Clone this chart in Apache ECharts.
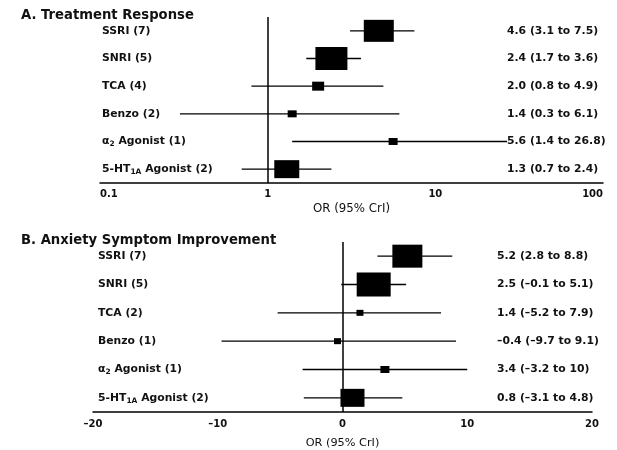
<!DOCTYPE html>
<html>
<head>
<meta charset="utf-8">
<script src="https://cdn.jsdelivr.net/npm/echarts@6/dist/echarts.min.js"></script>
<style>
html,body{margin:0;padding:0;background:#fff;}
#c{width:617px;height:450px;}
</style>
</head>
<body>
<div id="c"></div>
<script>
// Panel A: Treatment Response (odds ratio, log scale)
const categoriesA = ['SSRI (7)', 'SNRI (5)', 'TCA (4)', 'Benzo (2)', 'α{sub|2} Agonist (1)', '5-HT{sub|1A} Agonist (2)'];
const estA = [4.6, 2.4, 2.0, 1.4, 5.6, 1.3];
const lowA = [3.1, 1.7, 0.8, 0.3, 1.4, 0.7];
const highA = [7.5, 3.6, 4.9, 6.1, 26.8, 2.4];
const ticksA = [0.1, 1, 10, 100];

// Panel B: Anxiety Symptom Improvement (linear scale)
const categoriesB = ['SSRI (7)', 'SNRI (5)', 'TCA (2)', 'Benzo (1)', 'α{sub|2} Agonist (1)', '5-HT{sub|1A} Agonist (2)'];
const estB = [5.2, 2.5, 1.4, -0.4, 3.4, 0.8];
const lowB = [2.8, -0.1, -5.2, -9.7, -3.2, -3.1];
const highB = [8.8, 5.1, 7.9, 9.1, 10, 4.8];
const ticksB = [-20, -10, 0, 10, 20];

// Box (weight) marker sizes, styling only
const boxA = [[30,22],[32,23],[12,9],[9,7],[9,7],[25,18]];
const boxB = [[30,23],[34,24],[7,6],[7,6],[9,7],[24,18]];

const FONT = '"DejaVu Sans"';
const TXT = '#111';
const dash = s => String(s).replace(/-/g, '–');
const fmt = v => (Number.isInteger(v) && Math.abs(v) >= 10) ? String(v) : dash(v.toFixed(1));
const ciText = (e, l, h) => e.map((v, i) => `${fmt(v)} (${fmt(l[i])} to ${fmt(h[i])})`);

const rich = {
  sub: {fontFamily: FONT, fontWeight: 'bold', fontSize: 7.5, color: TXT, padding: [6, 0, 0, 0]}
};

function errRender(params, api) {
  const y = api.value(1);
  const p1 = api.coord([api.value(2), y]);
  const p2 = api.coord([api.value(3), y]);
  return {type: 'line', shape: {x1: p1[0], y1: p1[1], x2: p2[0], y2: p2[1]},
          style: {stroke: '#000', lineWidth: 1.3}};
}

function panel(gi, cats, est, lo, hi, box, refX, labelMargin, rightMargin) {
  return {
    yAxes: [
      {type: 'category', gridIndex: gi, data: cats, inverse: true,
       axisLine: {show: false}, axisTick: {show: false},
       axisLabel: {align: 'left', margin: labelMargin, fontFamily: FONT, fontWeight: 'bold', fontSize: 10.8, color: TXT, rich: rich}},
      {type: 'category', gridIndex: gi, data: ciText(est, lo, hi), inverse: true, position: 'right',
       axisLine: {show: false}, axisTick: {show: false},
       axisLabel: {align: 'left', margin: rightMargin, fontFamily: FONT, fontWeight: 'bold', fontSize: 10.8, color: TXT}}
    ],
    series: [
      {type: 'custom', xAxisIndex: gi, yAxisIndex: gi * 2, renderItem: errRender,
       encode: {x: [0, 2, 3], y: 1}, z: 2,
       data: est.map((v, i) => [v, i, lo[i], hi[i]])},
      {type: 'scatter', xAxisIndex: gi, yAxisIndex: gi * 2, symbol: 'rect',
       symbolSize: (v, p) => box[p.dataIndex],
       itemStyle: {color: '#000', opacity: 1}, z: 3,
       data: est.map((v, i) => [v, i]),
       markLine: {silent: true, symbol: 'none', label: {show: false},
                  lineStyle: {color: '#000', type: 'solid', width: 1.5},
                  data: [{xAxis: refX}]}}
    ]
  };
}

const pA = panel(0, categoriesA, estA, lowA, highA, boxA, 1, -2, -96);
const pB = panel(1, categoriesB, estB, lowB, highB, boxB, 0, -5, -95);

const chart = echarts.init(document.getElementById('c'), null, {renderer: 'canvas'});
chart.setOption({
  backgroundColor: '#fff',
  animation: false,
  title: [
    {text: 'A. Treatment Response', left: 16, top: 4,
     textStyle: {fontFamily: FONT, fontWeight: 'bold', fontSize: 13.2, color: TXT}},
    {text: 'B. Anxiety Symptom Improvement', left: 16, top: 229,
     textStyle: {fontFamily: FONT, fontWeight: 'bold', fontSize: 13.2, color: TXT}}
  ],
  grid: [
    {left: 100, right: 14, top: 17, height: 166},
    {left: 93, right: 25, top: 242, height: 171}
  ],
  xAxis: [
    {type: 'log', gridIndex: 0, logBase: 10, min: ticksA[0], max: ticksA[ticksA.length - 1],
     name: 'OR (95% CrI)', nameLocation: 'middle', nameGap: 20,
     nameTextStyle: {fontFamily: FONT, fontSize: 11.8, color: TXT},
     axisLine: {show: true, onZero: false, lineStyle: {color: '#000', width: 1.5}}, axisTick: {show: false},
     splitLine: {show: false},
     axisLabel: {margin: 6, fontFamily: FONT, fontWeight: 'bold', fontSize: 10, color: TXT,
                 alignMinLabel: 'left', alignMaxLabel: 'right',
                 formatter: v => String(v)}},
    {type: 'value', gridIndex: 1, min: ticksB[0], max: ticksB[ticksB.length - 1], interval: 10,
     name: 'OR (95% CrI)', nameLocation: 'middle', nameGap: 26,
     nameTextStyle: {fontFamily: FONT, fontSize: 11.3, color: TXT},
     axisLine: {show: true, onZero: false, lineStyle: {color: '#000', width: 1.5}}, axisTick: {show: false},
     splitLine: {show: false},
     axisLabel: {margin: 7, fontFamily: FONT, fontWeight: 'bold', fontSize: 10, color: TXT,
                 formatter: v => dash(v)}}
  ],
  yAxis: pA.yAxes.concat(pB.yAxes),
  series: pA.series.concat(pB.series)
});
</script>
</body>
</html>
